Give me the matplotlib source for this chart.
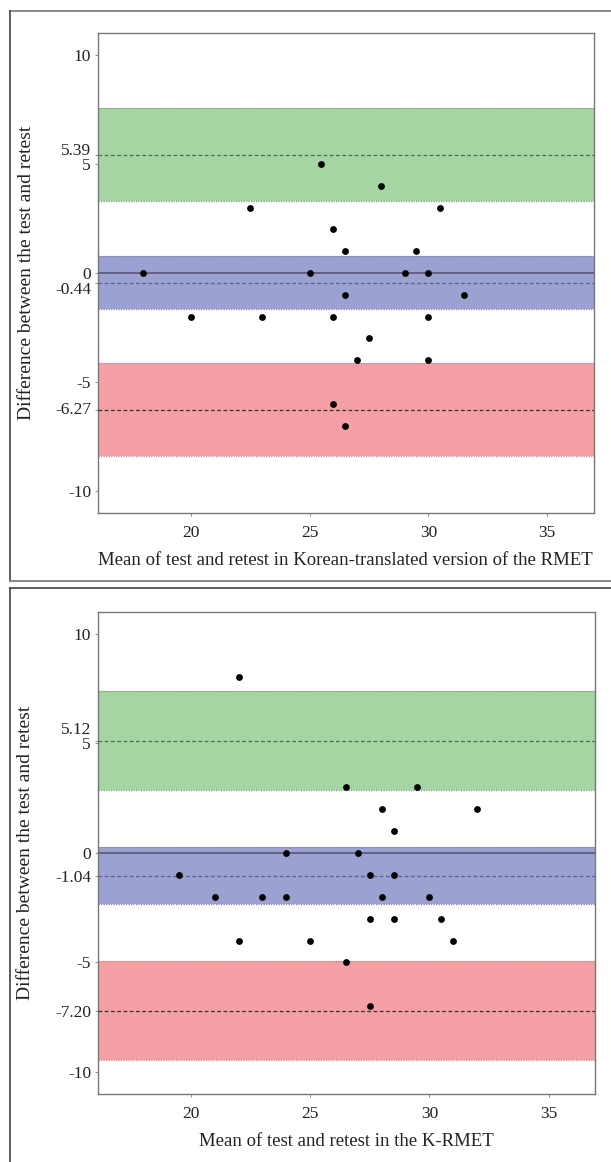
import matplotlib
matplotlib.use("Agg")
import matplotlib.pyplot as plt
from matplotlib.lines import Line2D
from matplotlib.transforms import ScaledTranslation

# ---------------- data ----------------
mean1 = [25.5, 28, 22.5, 30.5, 26, 26.5, 29.5, 18, 25, 29, 30, 26.5, 31.5,
         20, 23, 26, 30, 27.5, 27, 30, 26, 26.5]
diff1 = [5, 4, 3, 3, 2, 1, 1, 0, 0, 0, 0, -1, -1,
         -2, -2, -2, -2, -3, -4, -4, -6, -7]
bias1, upper1, lower1 = -0.44, 5.39, -6.27
bias_ci1 = [-1.66, 0.79]
upper_ci1 = [3.28, 7.54]
lower_ci1 = [-8.40, -4.12]
xlabel1 = "Mean of test and retest in Korean-translated version of the RMET"

mean2 = [22, 26.5, 29.5, 28, 32, 28.5, 24, 27, 19.5, 27.5, 28.5,
         21, 23, 24, 28, 30, 27.5, 28.5, 30.5, 22, 25, 31, 26.5, 27.5]
diff2 = [8, 3, 3, 2, 2, 1, 0, 0, -1, -1, -1,
         -2, -2, -2, -2, -2, -3, -3, -3, -4, -4, -4, -5, -7]
bias2, upper2, lower2 = -1.04, 5.12, -7.20
bias_ci2 = [-2.32, 0.26]
upper_ci2 = [2.86, 7.37]
lower_ci2 = [-9.44, -4.94]
xlabel2 = "Mean of test and retest in the K-RMET"

ylabel = "Difference between the test and retest"
xticks = [20, 25, 30, 35]
base_yticks = [10, 5, 0, -5, -10]

# ---------------- style ----------------
plt.rcParams['font.family'] = ['Liberation Serif', 'DejaVu Serif']
W, H = 611, 1162
fig = plt.figure(figsize=(W / 100, H / 100), dpi=100)

GREEN = "#a6d5a4"
BLUE = "#9ba1d0"
RED = "#f4a0a4"


def fx(px):
    return px / W


def fy(py):
    return 1 - py / H


def panel(rect, mean, diff, bias, upper, lower, bci, uci, lci, xlabel, shifts):
    ax = fig.add_axes(rect)
    ax.set_xlim(16.1, 36.95)
    ax.set_ylim(-11, 11)
    for (lo, hi), col, ecol in [(uci, GREEN, "#7a9a7a"),
                                (bci, BLUE, "#7c80b0"),
                                (lci, RED, "#c09095")]:
        ax.axhspan(lo, hi, color=col, lw=0, zorder=1)
        for v in (lo, hi):
            ax.axhline(v, color=ecol, lw=0.9, ls=(0, (1, 1)), zorder=2)
    ax.axhline(0, color="#5c5c80", lw=1.3, zorder=3)
    ax.axhline(upper, color="#4e6a50", lw=0.9, ls=(0, (3, 2)), zorder=3)
    ax.axhline(bias, color="#5a5c96", lw=0.9, ls=(0, (3, 2)), zorder=3)
    ax.axhline(lower, color="#333333", lw=0.9, ls=(0, (3, 2)), zorder=3)
    ax.scatter(mean, diff, s=24, color="black", zorder=5, linewidths=0)

    yt = base_yticks + [upper, bias, lower]
    ylabels = [str(v) for v in base_yticks] + [f"{upper:.2f}", f"{bias:.2f}", f"{lower:.2f}"]
    ax.set_yticks(yt)
    ax.set_yticklabels(ylabels)
    ax.set_xticks(xticks)
    ax.set_xticklabels([str(v) for v in xticks])
    ax.tick_params(axis='both', length=2.5, width=0.6, color="#777777",
                   labelsize=12.5, labelcolor="#222222")
    ax.tick_params(axis='y', pad=2.5)
    ax.tick_params(axis='x', pad=6)
    # nudge crowded tick labels apart (pixel offsets, up positive)
    for lab in ax.get_yticklabels():
        dy = shifts.get(lab.get_text(), 0)
        if dy:
            lab.set_transform(lab.get_transform() +
                              ScaledTranslation(0, dy / 100, fig.dpi_scale_trans))
    for s in ax.spines.values():
        s.set_color("#777777")
        s.set_linewidth(1.0)
    ax.set_xlabel(xlabel, fontsize=13.5, color="#222222", labelpad=8)
    ax.set_ylabel(ylabel, fontsize=14, color="#222222", labelpad=4)
    ax.yaxis.set_label_coords(-0.128, 0.5)
    return ax


# axes rectangles (figure fraction)
r1 = [fx(98), fy(513), fx(593.5) - fx(98), fy(33) - fy(513)]
r2 = [fx(98), fy(1094), fx(595) - fx(98), fy(611.7) - fy(1094)]

panel(r1, mean1, diff1, bias1, upper1, lower1, bias_ci1, upper_ci1, lower_ci1, xlabel1,
      {"5.39": 6, "-0.44": -5.5, "-6.27": 2})
panel(r2, mean2, diff2, bias2, upper2, lower2, bias_ci2, upper_ci2, lower_ci2, xlabel2,
      {"5.12": 12.5})

# outer frames
def fline(xs, ys, color, lw):
    fig.add_artist(Line2D([fx(x) for x in xs], [fy(y) for y in ys],
                          color=color, lw=lw, transform=fig.transFigure))

fline([10, 611], [11, 11], "#888888", 1.4)
fline([10, 10], [11, 580.5], "#333333", 1.1)
fline([10, 611], [580.5, 580.5], "#888888", 1.4)
fline([10, 611], [588, 588], "#333333", 1.1)
fline([10, 10], [588, 1162], "#333333", 1.1)

fig.savefig("out.png", dpi=100)
